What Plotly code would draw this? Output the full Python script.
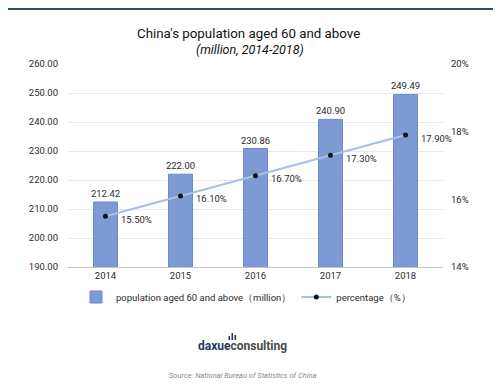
import plotly.graph_objects as go

years = ["2014", "2015", "2016", "2017", "2018"]
population = [212.42, 222.00, 230.86, 240.90, 249.49]
percentage = [15.50, 16.10, 16.70, 17.30, 17.90]
left_ticks = [190, 200, 210, 220, 230, 240, 250, 260]
right_ticks = [14, 16, 18, 20]

# page has an 8px body margin; figure sized to fill the window
OFF = 8
W, H = 501 - OFF, 387 - OFF
X0, X1, Y0, Y1 = 68, 443, 64, 267          # plot area in page pixels
L, R, T, B = X0 - OFF, W - (X1 - OFF), Y0 - OFF, H - (Y1 - OFF)
ph = Y1 - Y0
pw = X1 - X0
FS = 9.5
TXT = "#2b2b2b"


def py(pix):
    return (Y1 - pix) / ph


def px(pix):
    return (pix - X0) / pw


xpos = list(range(len(years)))

fig = go.Figure()
fig.add_trace(go.Bar(
    x=xpos, y=population, name="population aged 60 and above（million）",
    marker=dict(color="#7d9ad5", line=dict(color="#6d8ac8", width=1)),
    width=0.32,
    text=[f"{v:.2f}" for v in population], textposition="outside",
    constraintext="none",
    textfont=dict(size=FS, color=TXT), cliponaxis=False,
))
fig.add_trace(go.Scatter(
    x=xpos, y=percentage, yaxis="y2", name="percentage（%）",
    mode="lines+markers",
    line=dict(color="#a9bfe6", width=2),
    marker=dict(color="#111111", size=5),
))
for i, p in zip(xpos, percentage):
    fig.add_annotation(x=i, y=p, xref="x", yref="y2", text=f"{p:.2f}%",
                       showarrow=False, xanchor="left", yanchor="middle",
                       xshift=13, yshift=-3, font=dict(size=FS, color=TXT))

fig.add_annotation(x=px(248), y=py(34), xref="paper", yref="paper",
                   xanchor="center", yanchor="middle",
                   text="China's population aged 60 and above", showarrow=False,
                   font=dict(size=13.3, color="#111111"))
fig.add_annotation(x=px(250), y=py(49), xref="paper", yref="paper",
                   xanchor="center", yanchor="middle",
                   text="<i>(million, 2014-2018)</i>", showarrow=False,
                   font=dict(size=12.5, color="#111111"))

fig.update_layout(
    width=W, height=H,
    margin=dict(l=L, r=R, t=T, b=B, autoexpand=False),
    paper_bgcolor="white", plot_bgcolor="white",
    font=dict(family="Roboto, Arial, sans-serif", color=TXT, size=FS),
    showlegend=True,
    legend=dict(orientation="h", x=px(246), xanchor="center", y=py(297), yanchor="middle",
                font=dict(size=FS, color=TXT), itemwidth=30, tracegroupgap=0),
    xaxis=dict(range=[-0.5, len(years) - 0.5], tickvals=xpos, ticktext=years,
               showgrid=False, showline=True, linecolor="#c4c4c4", linewidth=1,
               ticks="", tickfont=dict(size=FS, color=TXT), zeroline=False),
    yaxis=dict(range=[190, 260], tickvals=left_ticks,
               ticktext=[f"{v:.2f}" for v in left_ticks],
               showgrid=True, gridcolor="#e8e8e8", gridwidth=1, zeroline=False,
               tickfont=dict(size=FS, color=TXT), ticklabelstandoff=9),
    yaxis2=dict(range=[14, 20], overlaying="y", side="right", tickvals=right_ticks,
                ticktext=[f"{v}%" for v in right_ticks], showgrid=False, zeroline=False,
                tickfont=dict(size=FS, color=TXT), ticklabelstandoff=7),
)

# logo & source
fig.add_annotation(x=px(242), y=py(346), xref="paper", yref="paper",
                   xanchor="center", yanchor="middle",
                   text="<b><span style='color:#22385e'>daxue</span><span style='color:#4a4a4a'>consulting</span></b>",
                   showarrow=False, font=dict(size=12, family="Roboto, Arial, sans-serif"))
for x0, h in [(228.5, 4), (231.5, 7), (234.5, 5)]:
    fig.add_shape(type="rect", xref="paper", yref="paper", x0=px(x0), x1=px(x0 + 1.6),
                  y0=py(340), y1=py(340 - h), line=dict(width=0), fillcolor="#22385e")
fig.add_annotation(x=px(243), y=py(375), xref="paper", yref="paper",
                   xanchor="center", yanchor="middle",
                   text="<i>Source: National Bureau of Statistics of China</i>",
                   showarrow=False, font=dict(size=7.5, color="#8a8a8a"))
fig.add_shape(type="line", xref="paper", yref="paper", x0=px(OFF), x1=px(510),
              y0=py(OFF + 1), y1=py(OFF + 1), line=dict(color="#2c4a6e", width=2))

fig.write_html("out.html")
